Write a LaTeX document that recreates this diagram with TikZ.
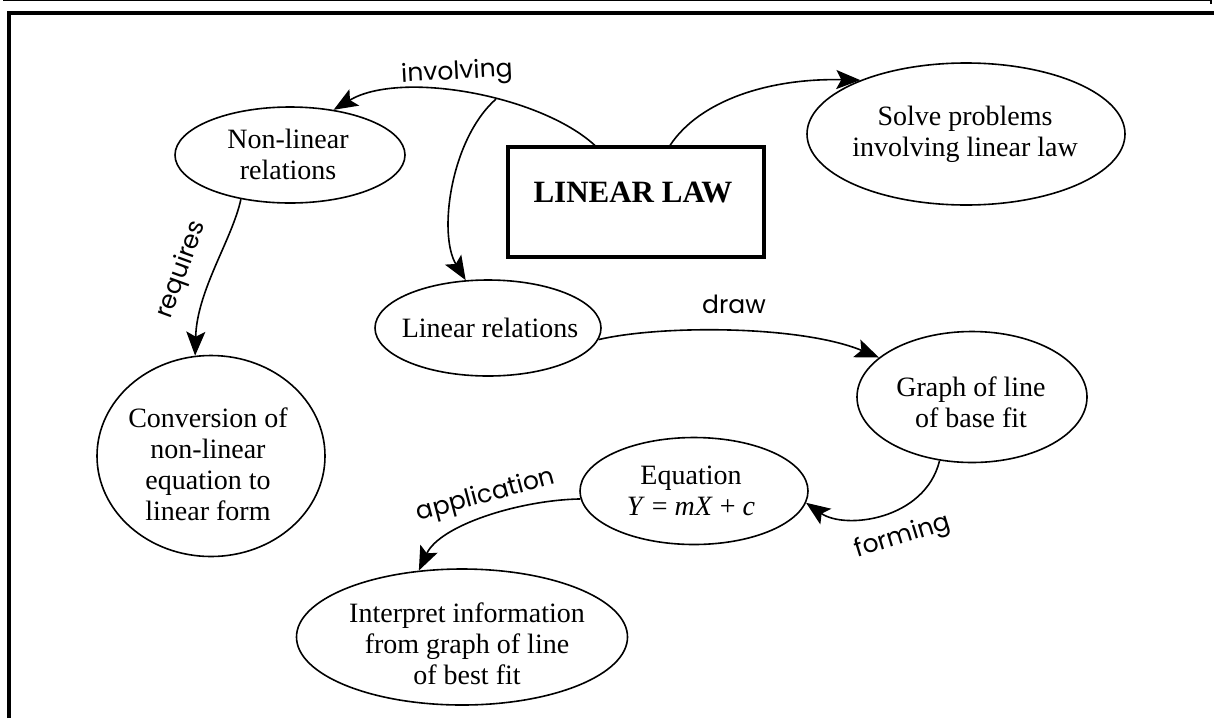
\documentclass[tikz,border=0pt]{standalone}
\usepackage{fontspec}
\setmainfont{Liberation Serif}
\newfontfamily\hand{Poppins}
\usetikzlibrary{arrows.meta,shapes.geometric}

\begin{document}
\begin{tikzpicture}[x=1pt,y=-1pt,
  oval/.style={draw, ellipse, line width=1.6pt, inner sep=0pt},
  txt/.style={align=center, font=\fontsize{28}{31}\selectfont, inner sep=0pt},
  link/.style={line width=1.6pt, -{Stealth[length=24pt,width=19pt,inset=5pt]}},
  tag/.style={font=\hand\fontsize{25}{28}\selectfont, inner sep=0pt}]
\useasboundingbox (0,0) rectangle (1214,718);

% frame
\draw[line width=1.2pt] (3,0.8) -- (1211,0.8) -- (1211,4);
\draw[line width=4pt] (9,718) -- (9,12.5) -- (1214,12.5);

% concept ovals
\node[oval, minimum width=230, minimum height=96]  (nl)   at (290,155) {};
\node[oval, minimum width=318, minimum height=142] (sp)   at (966,134) {};
\node[oval, minimum width=226, minimum height=96]  (lr)   at (488,328) {};
\node[oval, minimum width=230, minimum height=131] (gr)   at (972,397) {};
\node[oval, minimum width=228, minimum height=107] (eq)   at (694,491) {};
\node[oval, minimum width=331, minimum height=136] (ip)   at (462,637) {};
\node[oval, minimum width=228, minimum height=201] (conv) at (211,456) {};

% central box
\node[draw, line width=3.2pt, minimum width=256, minimum height=110, inner sep=0pt] (law) at (636,202) {};
\node[font=\bfseries\fontsize{31}{31}\selectfont, inner sep=0pt] (lawt) at (633,192) {LINEAR LAW};

% texts
\node[txt] (nlt)   at (288,154) {Non-linear\\relations};
\node[txt] (spt)   at (965,134) {Solve problems\\involving linear law};
\node[txt] (lrt)   at (490,328) {Linear relations};
\node[txt] (grt)   at (971,402) {Graph of line\\of base fit};
\node[txt] (eqt)   at (691,491) {Equation\\\textit{Y} = \textit{mX} + \textit{c}};
\node[txt] (ipt)   at (467,644) {Interpret information\\from graph of line\\of best fit};
\node[txt] (convt) at (208,464) {Conversion of\\non-linear\\equation to\\linear form};

% connectors
\coordinate (fork) at (496,99);
\draw[link] (law.126) .. controls (540,95) and (400,70) .. (nl.46);
\draw[link] (fork) .. controls (450,140) and (438,235) .. (lr.115);
\draw[link] (law.59) .. controls (700,100) and (770,78) .. (sp.153);
\draw[link] (nl.222) .. controls (232,240) and (197,290) .. (conv.99);
\draw[link] (lr.354) .. controls (660,325) and (800,325) .. (gr.157);
\draw[link] (gr.243) .. controls (925,520) and (845,530) .. (eq.354);
\draw[link] (eq.184) .. controls (520,500) and (440,525) .. (ip.123);

% link words
\node[tag, rotate=3]  (w1) at (457,73)  {involving};
\node[tag, rotate=70] (w2) at (182,270) {requires};
\node[tag]            (w3) at (734,304) {draw};
\node[tag, rotate=17] (w4) at (903,537) {forming};
\node[tag, rotate=15] (w5) at (486,496) {application};
\end{tikzpicture}
\end{document}
